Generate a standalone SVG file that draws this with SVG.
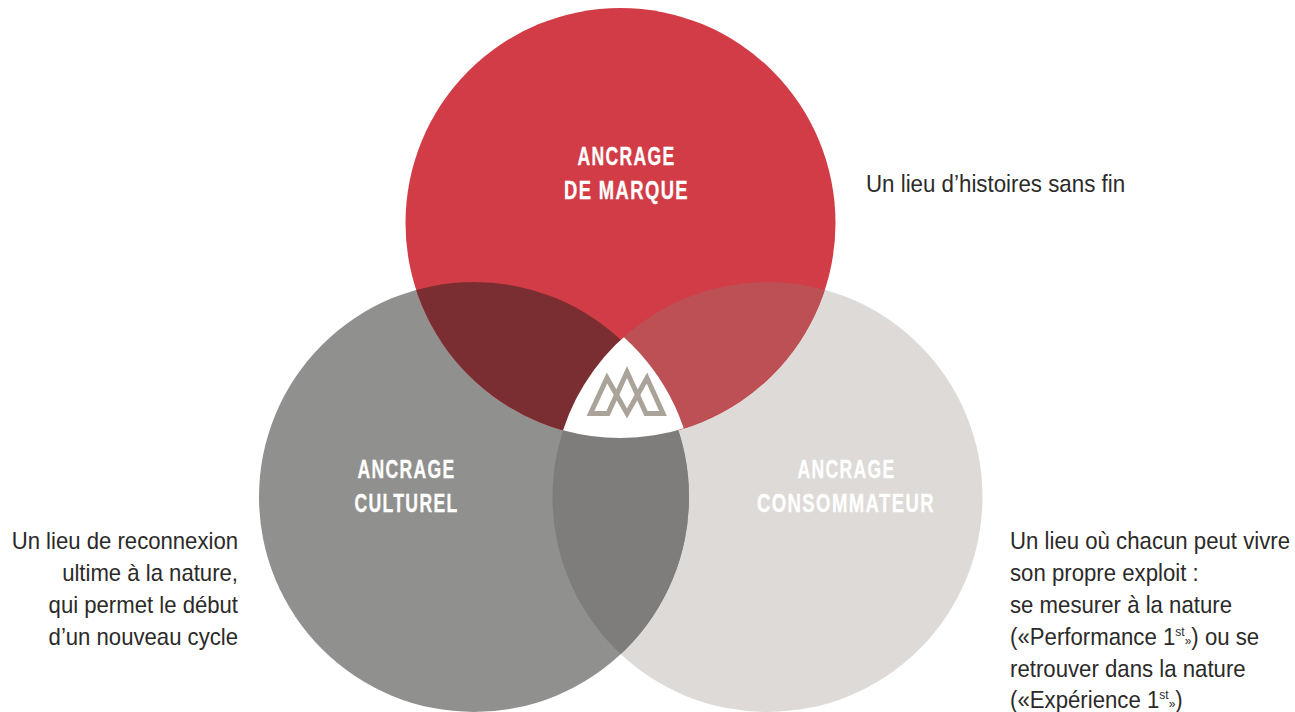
<svg xmlns="http://www.w3.org/2000/svg" width="1295" height="712" viewBox="0 0 1295 712">
<style>
.body{font-family:"Liberation Sans",Arial,sans-serif;font-size:24px;fill:#2b2a29}
.head{font-family:"Liberation Sans",Arial,sans-serif;font-size:26.5px;font-weight:700;fill:#fff;stroke:#fff;stroke-width:.35px;text-anchor:middle;letter-spacing:2px}
.sup{font-size:13px}
</style>
<defs>
<clipPath id="cR"><circle cx="620.5" cy="223" r="215"/></clipPath>
<clipPath id="cG"><circle cx="474" cy="497" r="215"/></clipPath>
<clipPath id="cL" clip-path="url(#cR)"><circle cx="767.5" cy="497" r="215"/></clipPath>
</defs>
<rect width="1295" height="712" fill="#fff"/>
<g id="node-consommateur"><circle cx="767.5" cy="497" r="215" fill="#DDDAD7"/>
<text class="head" transform="translate(846.5,477.5) scale(.663,1)">ANCRAGE</text>
<text class="head" transform="translate(846,511.5) scale(.7,1)">CONSOMMATEUR</text></g>
<g id="node-culturel"><circle cx="474" cy="497" r="215" fill="#90908E"/>
<text class="head" transform="translate(406.5,477.5) scale(.663,1)">ANCRAGE</text>
<text class="head" transform="translate(406.5,511.5) scale(.664,1)">CULTUREL</text></g>
<g id="node-marque"><circle cx="620.5" cy="223" r="215" fill="#D23C47"/>
<text class="head" transform="translate(626.5,165) scale(.663,1)">ANCRAGE</text>
<text class="head" transform="translate(626.5,198.5) scale(.695,1)">DE MARQUE</text></g>
<g id="overlaps">
<circle cx="474" cy="497" r="215" fill="#7A2E32" clip-path="url(#cR)"/>
<circle cx="767.5" cy="497" r="215" fill="#BD5055" clip-path="url(#cR)"/>
<circle cx="767.5" cy="497" r="215" fill="#7E7D7B" clip-path="url(#cG)"/>
<circle cx="480" cy="497" r="215" fill="#fff" clip-path="url(#cL)"/>
</g>
<g id="node-logo"><path d="M590.5 413.5H608L627 372L646 413.5H663L647 378L627 413.5L607 378Z" fill="none" stroke="#A9A39A" stroke-width="5" stroke-linejoin="miter"/></g>
<g id="label-marque"><text class="body" transform="translate(866,192) scale(.93,1)">Un lieu d’histoires sans fin</text></g>
<g id="label-culturel">
<text class="body" text-anchor="end" transform="translate(238,549) scale(.922,1)">Un lieu de reconnexion</text>
<text class="body" text-anchor="end" transform="translate(238,581) scale(.922,1)">ultime à la nature,</text>
<text class="body" text-anchor="end" transform="translate(238,613) scale(.922,1)">qui permet le début</text>
<text class="body" text-anchor="end" transform="translate(238,645) scale(.922,1)">d’un nouveau cycle</text>
</g>
<g id="label-consommateur">
<text class="body" transform="translate(1010,549) scale(.925,1)">Un lieu où chacun peut vivre</text>
<text class="body" transform="translate(1010,581) scale(.925,1)">son propre exploit :</text>
<text class="body" transform="translate(1010,613) scale(.925,1)">se mesurer à la nature</text>
<text class="body" transform="translate(1010,645) scale(.925,1)">(«Performance 1<tspan class="sup" dy="-9">st</tspan><tspan dy="9" class="sup">»</tspan>) ou se</text>
<text class="body" transform="translate(1010,677) scale(.925,1)">retrouver dans la nature</text>
<text class="body" transform="translate(1010,708) scale(.925,1)">(«Expérience 1<tspan class="sup" dy="-9">st</tspan><tspan dy="9" class="sup">»</tspan>)</text>
</g>
</svg>
